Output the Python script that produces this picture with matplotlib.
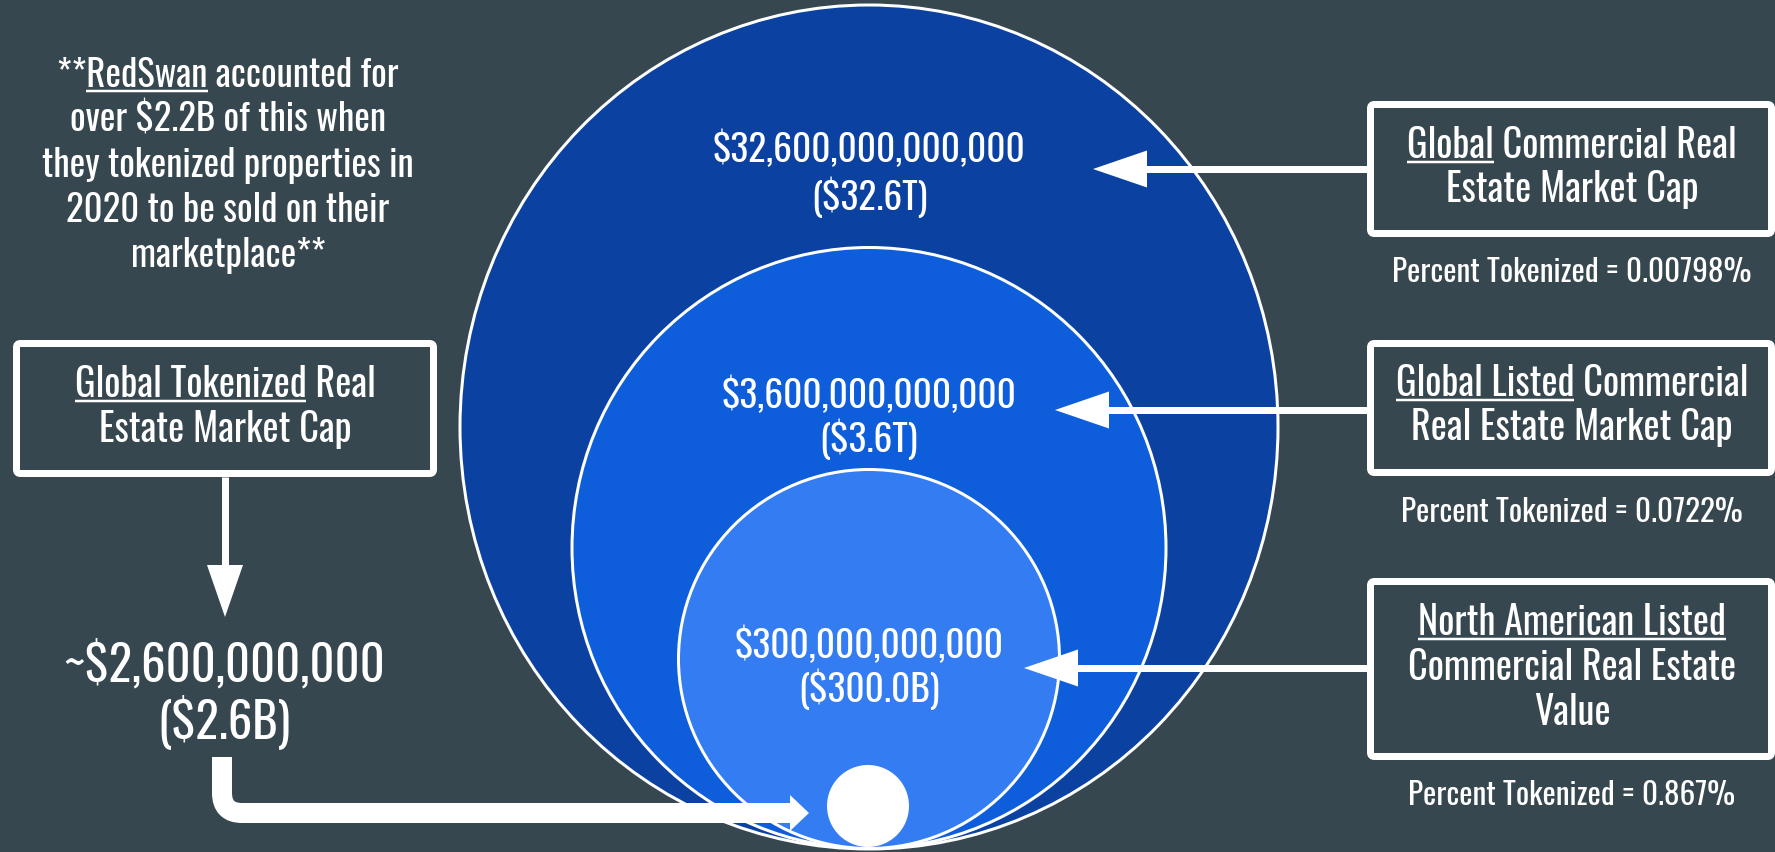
import matplotlib
matplotlib.use("Agg")
import matplotlib.pyplot as plt
from matplotlib import font_manager
from matplotlib.patches import Ellipse, Circle, FancyBboxPatch, Polygon, PathPatch
from matplotlib.path import Path

plt.rcParams['text.parse_math'] = False

# --- data ---
market_values = [32.6e12, 3.6e12, 300e9]      # global, global listed, north american listed
tokenized_value = 2.6e9
# box labels: list of lines, each line a list of (text, underlined)
market_boxes = [
    [[("Global", True), (" Commercial Real", False)],
     [("Estate Market Cap", False)]],
    [[("Global Listed", True), (" Commercial", False)],
     [("Real Estate Market Cap", False)]],
    [[("North American Listed", True)],
     [("Commercial Real Estate", False)],
     [("Value", False)]],
]
tokenized_box = [[("Global Tokenized", True), (" Real", False)],
                 [("Estate Market Cap", False)]]
note_lines = [
    [("**", False), ("RedSwan", True), (" accounted for", False)],
    [("over $2.2B of this when", False)],
    [("they tokenized properties in", False)],
    [("2020 to be sold on their", False)],
    [("marketplace**", False)],
]

# --- style / layout (pixels, y downward) ---
BG = "#37474F"
circle_colors = ["#0B41A0", "#0E5EDC", "#347CF1"]
circles = [(869, 427, 818, 844), (869, 548, 594, 601), (869, 659, 381, 379)]
circle_text_y = [(162, 210), (408, 452), (658, 702)]
boxes = [(1370.5, 104.5, 401, 129), (1370.5, 343.5, 401, 129), (1370.5, 581.5, 401, 175)]
box_text_y = [(158, 202), (396, 440), (635, 680, 725)]
pct_y = [282, 522, 805]
arrow_y = [169, 410, 668]
arrow_tip = [1093, 1055, 1024]
PX = 0.72  # points per pixel at dpi 100

names = set(f.name for f in font_manager.fontManager.ttflist)
FONT = next(f for f in ["Oswald", "Roboto Condensed", "Liberation Sans Narrow", "DejaVu Sans"] if f in names)
W = "light"


def fmt_short(v):
    if v >= 1e12:
        return f"(${v / 1e12:.1f}T)"
    return f"(${v / 1e9:.1f}B)"


fig = plt.figure(figsize=(17.75, 8.52), dpi=100, facecolor=BG)
ax = fig.add_axes([0, 0, 1, 1])
ax.set_xlim(0, 1775)
ax.set_ylim(852, 0)
ax.axis('off')
renderer = fig.canvas.get_renderer()


def text_width(s, size):
    t = ax.text(0, 0, s, fontsize=size, family=FONT, weight=W)
    w = t.get_window_extent(renderer).width
    t.remove()
    return w


def draw_line(x, y, segs, size):
    full = "".join(s for s, _ in segs)
    ax.text(x, y, full, ha='center', va='baseline', fontsize=size,
            color='white', family=FONT, weight=W, zorder=6)
    left = x - text_width(full, size) / 2
    prefix = ""
    for s, u in segs:
        prefix += s
        if u:
            end = left + text_width(prefix, size)
            start = end - text_width(s, size)
            ax.plot([start, end], [y + 4, y + 4], color='white', lw=2.5 * PX,
                    solid_capstyle='butt', zorder=6)


# circles
for (cx, cy, w, h), col in zip(circles, circle_colors):
    ax.add_patch(Ellipse((cx, cy), w, h, facecolor=col, edgecolor='white',
                         lw=3 * PX, zorder=2))
ax.add_patch(Circle((868, 806), 41, facecolor='white', edgecolor='none', zorder=3))

for v, (y1, y2) in zip(market_values, circle_text_y):
    draw_line(869, y1, [(f"${v:,.0f}", False)], 27)
    draw_line(869, y2, [(fmt_short(v), False)], 27)

# right boxes, arrows and percentages
for i, v in enumerate(market_values):
    x0, y0, w, h = boxes[i]
    ax.add_patch(FancyBboxPatch((x0, y0), w, h, boxstyle="round,pad=0,rounding_size=4",
                                facecolor=BG, edgecolor='white', lw=7 * PX, zorder=4))
    for segs, y in zip(market_boxes[i], box_text_y[i]):
        draw_line(x0 + w / 2 + 1, y, segs, 27.5)
    pct = tokenized_value / v * 100
    draw_line(x0 + w / 2 + 1, pct_y[i], [(f"Percent Tokenized = {pct:.3g}%", False)], 22.5)
    ay, tip = arrow_y[i], arrow_tip[i]
    ax.plot([x0 - 3, tip + 50], [ay, ay], color='white', lw=7 * PX,
            solid_capstyle='butt', zorder=5)
    ax.add_patch(Polygon([(tip, ay), (tip + 54, ay - 18.5), (tip + 54, ay + 18.5)],
                         facecolor='white', edgecolor='none', zorder=5))

# notes
for segs, y in zip(note_lines, [87, 131, 177, 222, 267]):
    draw_line(228, y, segs, 26.5)

# left box
ax.add_patch(FancyBboxPatch((16.5, 343.5), 417, 130, boxstyle="round,pad=0,rounding_size=4",
                            facecolor=BG, edgecolor='white', lw=7 * PX, zorder=4))
for segs, y in zip(tokenized_box, [397, 442]):
    draw_line(225, y, segs, 27.5)
ax.plot([225, 225], [477, 567], color='white', lw=7 * PX, solid_capstyle='butt', zorder=5)
ax.add_patch(Polygon([(207, 565), (243, 565), (225, 617)], facecolor='white',
                     edgecolor='none', zorder=5))

draw_line(224, 682, [(f"~${tokenized_value:,.0f}", False)], 35)
draw_line(224, 738, [(fmt_short(tokenized_value), False)], 35)

# L-shaped arrow to the tiny circle
path = Path([(222, 757), (222, 793), (222, 813), (242, 813), (792, 813)],
            [Path.MOVETO, Path.LINETO, Path.CURVE3, Path.CURVE3, Path.LINETO])
ax.add_patch(PathPatch(path, fill=False, edgecolor='white', lw=20 * PX,
                       capstyle='butt', joinstyle='round', zorder=5))
ax.add_patch(Polygon([(790, 795), (809, 813), (790, 831)], facecolor='white',
                     edgecolor='none', zorder=5))

fig.savefig("out.png", dpi=100, facecolor=BG)
